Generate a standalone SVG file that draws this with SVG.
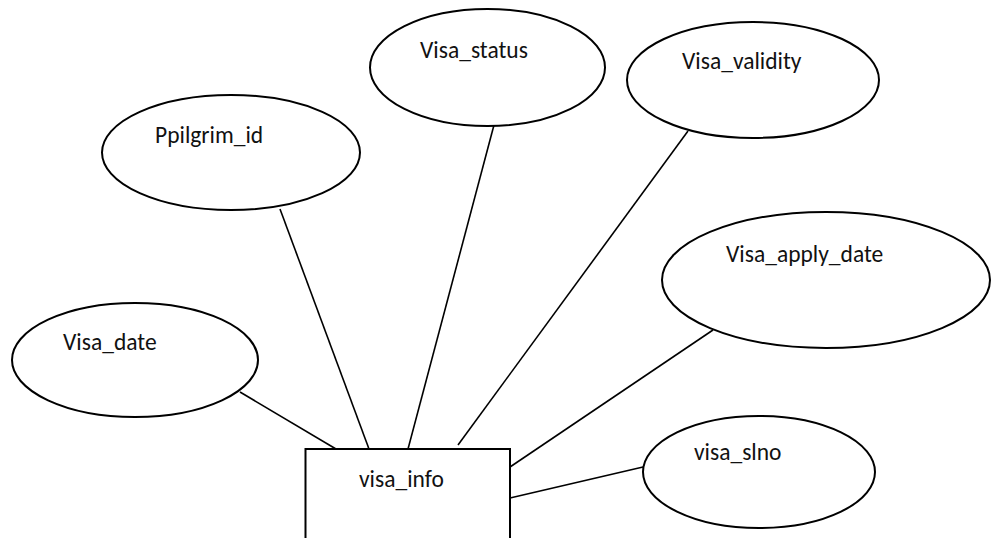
<svg xmlns="http://www.w3.org/2000/svg" width="994" height="538" viewBox="0 0 994 538">
  <style>
    .attr { fill: #ffffff; stroke: #000000; stroke-width: 2; }
    .entity { fill: #ffffff; stroke: #000000; stroke-width: 2; }
    .link { stroke: #000000; stroke-width: 1.6; fill: none; }
    .label { font-family: Carlito, Calibri, Lato, "Liberation Sans", sans-serif; font-size: 23.5px; fill: #111111; }
  </style>
  <rect x="0" y="0" width="994" height="538" fill="#ffffff"/>

  <!-- relationships between the entity and its attributes -->
  <g id="connectors">
    <line class="link" x1="240" y1="392" x2="336" y2="449"/>
    <line class="link" x1="280" y1="209" x2="369" y2="449"/>
    <line class="link" x1="494" y1="125" x2="408" y2="449"/>
    <line class="link" x1="688" y1="131" x2="458" y2="445"/>
    <line class="link" x1="713" y1="330" x2="510" y2="467"/>
    <line class="link" x1="643" y1="467" x2="510" y2="498"/>
  </g>

  <g id="visa_info">
    <rect class="entity" x="305.5" y="449" width="204.5" height="100"/>
    <text class="label" x="359" y="487">visa_info</text>
  </g>

  <g id="visa_date">
    <ellipse class="attr" cx="135" cy="360" rx="123" ry="57"/>
    <text class="label" x="63" y="350">Visa_date</text>
  </g>

  <g id="ppilgrim_id">
    <ellipse class="attr" cx="231" cy="152.5" rx="129" ry="57.5"/>
    <text class="label" x="155" y="143">Ppilgrim_id</text>
  </g>

  <g id="visa_status">
    <ellipse class="attr" cx="487.5" cy="67.5" rx="117.5" ry="58.5"/>
    <text class="label" x="420" y="58">Visa_status</text>
  </g>

  <g id="visa_validity">
    <ellipse class="attr" cx="753" cy="80" rx="126" ry="58"/>
    <text class="label" x="682" y="69">Visa_validity</text>
  </g>

  <g id="visa_apply_date">
    <ellipse class="attr" cx="826" cy="280" rx="164" ry="68"/>
    <text class="label" x="726" y="262">Visa_apply_date</text>
  </g>

  <g id="visa_slno">
    <ellipse class="attr" cx="759" cy="472" rx="116" ry="56"/>
    <text class="label" x="694" y="460">visa_slno</text>
  </g>
</svg>
